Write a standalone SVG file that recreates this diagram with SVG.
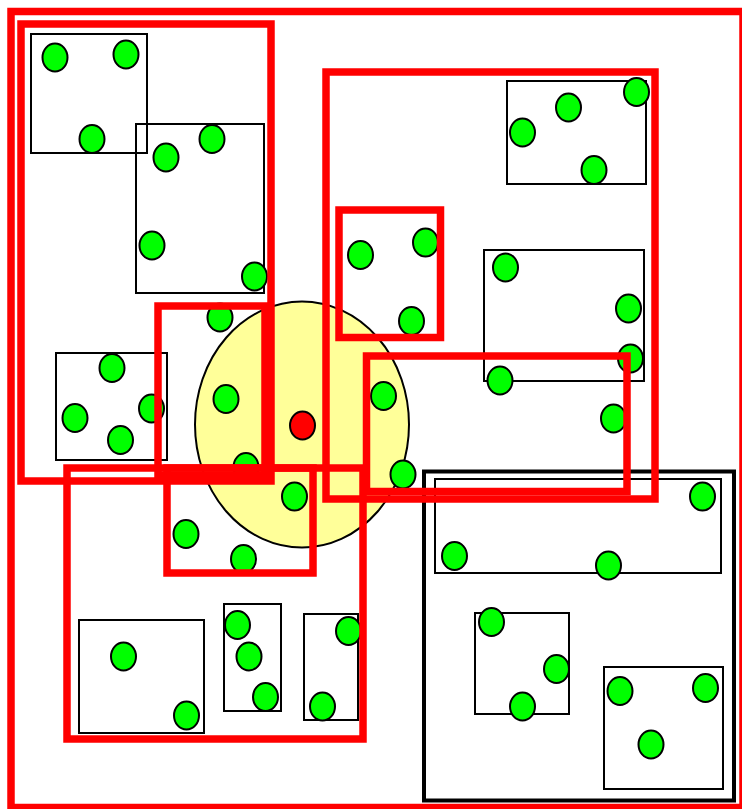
<svg xmlns="http://www.w3.org/2000/svg" width="742" height="809" viewBox="0 0 742 809">
<style>
.box{fill:none;stroke:#000;stroke-width:2}
.boxb{fill:none;stroke:#000;stroke-width:4}
.grp{fill:none;stroke:#ff0000;stroke-width:7.5}
.n{fill:#00ff00;stroke:#000;stroke-width:2}
.c{fill:#ff0000;stroke:#000;stroke-width:2}
.core{fill:#ffff99;stroke:#000;stroke-width:2}
</style>
<rect width="742" height="809" fill="#fff"/>
<g id="core-region"><ellipse class="core" cx="302" cy="424.5" rx="107" ry="123"/></g>
<g id="boxes">
<rect id="b1" class="box" x="31" y="34" width="116" height="119"/>
<rect id="b2" class="box" x="136" y="124" width="128" height="169"/>
<rect id="b3" class="box" x="56" y="353" width="111" height="107"/>
<rect id="b4" class="box" x="507" y="81" width="139" height="103"/>
<rect id="b5" class="box" x="484" y="250" width="160" height="131"/>
<rect id="b6" class="boxb" x="424" y="471.5" width="310" height="329"/>
<rect id="b7" class="box" x="435" y="479" width="286" height="94"/>
<rect id="b8" class="box" x="475" y="613" width="94" height="101"/>
<rect id="b9" class="box" x="604" y="667" width="119" height="122"/>
<rect id="b10" class="box" x="79" y="620" width="125" height="113"/>
<rect id="b11" class="box" x="224" y="604" width="57" height="107"/>
<rect id="b12" class="box" x="304" y="614" width="54" height="106"/>
</g>
<g id="nodes">
<ellipse id="n1" class="n" cx="55" cy="57.5" rx="12.5" ry="14"/>
<ellipse id="n2" class="n" cx="126" cy="54.5" rx="12.5" ry="14"/>
<ellipse id="n3" class="n" cx="92" cy="139" rx="12.5" ry="14"/>
<ellipse id="n4" class="n" cx="166" cy="157.5" rx="12.5" ry="14"/>
<ellipse id="n5" class="n" cx="212" cy="139" rx="12.5" ry="14"/>
<ellipse id="n6" class="n" cx="152" cy="245.5" rx="12.5" ry="14"/>
<ellipse id="n7" class="n" cx="254.5" cy="276.5" rx="12.5" ry="14"/>
<ellipse id="n8" class="n" cx="220" cy="317.5" rx="12.5" ry="14"/>
<ellipse id="n9" class="n" cx="112" cy="368" rx="12.5" ry="14"/>
<ellipse id="n10" class="n" cx="75" cy="418" rx="12.5" ry="14"/>
<ellipse id="n11" class="n" cx="151.5" cy="408.5" rx="12.5" ry="14"/>
<ellipse id="n12" class="n" cx="120.5" cy="440" rx="12.5" ry="14"/>
<ellipse id="n13" class="n" cx="226" cy="399" rx="12.5" ry="14"/>
<ellipse id="n14" class="n" cx="246" cy="467" rx="12.5" ry="14"/>
<ellipse id="n15" class="n" cx="294.5" cy="496.5" rx="12.5" ry="14"/>
<ellipse id="n16" class="n" cx="186" cy="534" rx="12.5" ry="14"/>
<ellipse id="n17" class="n" cx="243.5" cy="559" rx="12.5" ry="14"/>
<ellipse id="n18" class="n" cx="383.5" cy="396" rx="12.5" ry="14"/>
<ellipse id="n19" class="n" cx="403" cy="474.5" rx="12.5" ry="14"/>
<ellipse id="n20" class="n" cx="360.5" cy="255" rx="12.5" ry="14"/>
<ellipse id="n21" class="n" cx="425.5" cy="242.5" rx="12.5" ry="14"/>
<ellipse id="n22" class="n" cx="411.5" cy="321" rx="12.5" ry="14"/>
<ellipse id="n23" class="n" cx="522.5" cy="132.5" rx="12.5" ry="14"/>
<ellipse id="n24" class="n" cx="568.5" cy="107.5" rx="12.5" ry="14"/>
<ellipse id="n25" class="n" cx="636.5" cy="92" rx="12.5" ry="14"/>
<ellipse id="n26" class="n" cx="594" cy="170" rx="12.5" ry="14"/>
<ellipse id="n27" class="n" cx="505.5" cy="267.5" rx="12.5" ry="14"/>
<ellipse id="n28" class="n" cx="628.5" cy="308.5" rx="12.5" ry="14"/>
<ellipse id="n29" class="n" cx="630.5" cy="358.5" rx="12.5" ry="14"/>
<ellipse id="n30" class="n" cx="500" cy="380.5" rx="12.5" ry="14"/>
<ellipse id="n31" class="n" cx="613.5" cy="418.5" rx="12.5" ry="14"/>
<ellipse id="n32" class="n" cx="702.5" cy="496.5" rx="12.5" ry="14"/>
<ellipse id="n33" class="n" cx="454.5" cy="556" rx="12.5" ry="14"/>
<ellipse id="n34" class="n" cx="608.5" cy="565.5" rx="12.5" ry="14"/>
<ellipse id="n35" class="n" cx="491.5" cy="622" rx="12.5" ry="14"/>
<ellipse id="n36" class="n" cx="556.5" cy="669" rx="12.5" ry="14"/>
<ellipse id="n37" class="n" cx="522.5" cy="706.5" rx="12.5" ry="14"/>
<ellipse id="n38" class="n" cx="620" cy="691" rx="12.5" ry="14"/>
<ellipse id="n39" class="n" cx="705.5" cy="688" rx="12.5" ry="14"/>
<ellipse id="n40" class="n" cx="651" cy="744.5" rx="12.5" ry="14"/>
<ellipse id="n41" class="n" cx="123.5" cy="656.5" rx="12.5" ry="14"/>
<ellipse id="n42" class="n" cx="186.5" cy="715.5" rx="12.5" ry="14"/>
<ellipse id="n43" class="n" cx="237.5" cy="625" rx="12.5" ry="14"/>
<ellipse id="n44" class="n" cx="249" cy="656.5" rx="12.5" ry="14"/>
<ellipse id="n45" class="n" cx="265.5" cy="697" rx="12.5" ry="14"/>
<ellipse id="n46" class="n" cx="348.5" cy="631" rx="12.5" ry="14"/>
<ellipse id="n47" class="n" cx="322.5" cy="706.5" rx="12.5" ry="14"/>
<ellipse id="center" class="c" cx="302.5" cy="425.5" rx="12.5" ry="14"/>
</g>
<g id="groups">
<rect id="g-outer" class="grp" x="11" y="11.5" width="732" height="796"/>
<rect id="g-topleft" class="grp" x="21" y="24" width="250" height="457"/>
<rect id="g-right" class="grp" x="326" y="72" width="329" height="427"/>
<rect id="g-small" class="grp" x="339" y="210" width="101.5" height="127.5"/>
<rect id="g-mid" class="grp" x="366.5" y="356" width="260.5" height="135.5"/>
<rect id="g-c" class="grp" x="158" y="306" width="107" height="169"/>
<rect id="g-bottom" class="grp" x="67" y="468" width="296" height="271"/>
<rect id="g-e" class="grp" x="167" y="468" width="146" height="105"/>
</g>
</svg>
